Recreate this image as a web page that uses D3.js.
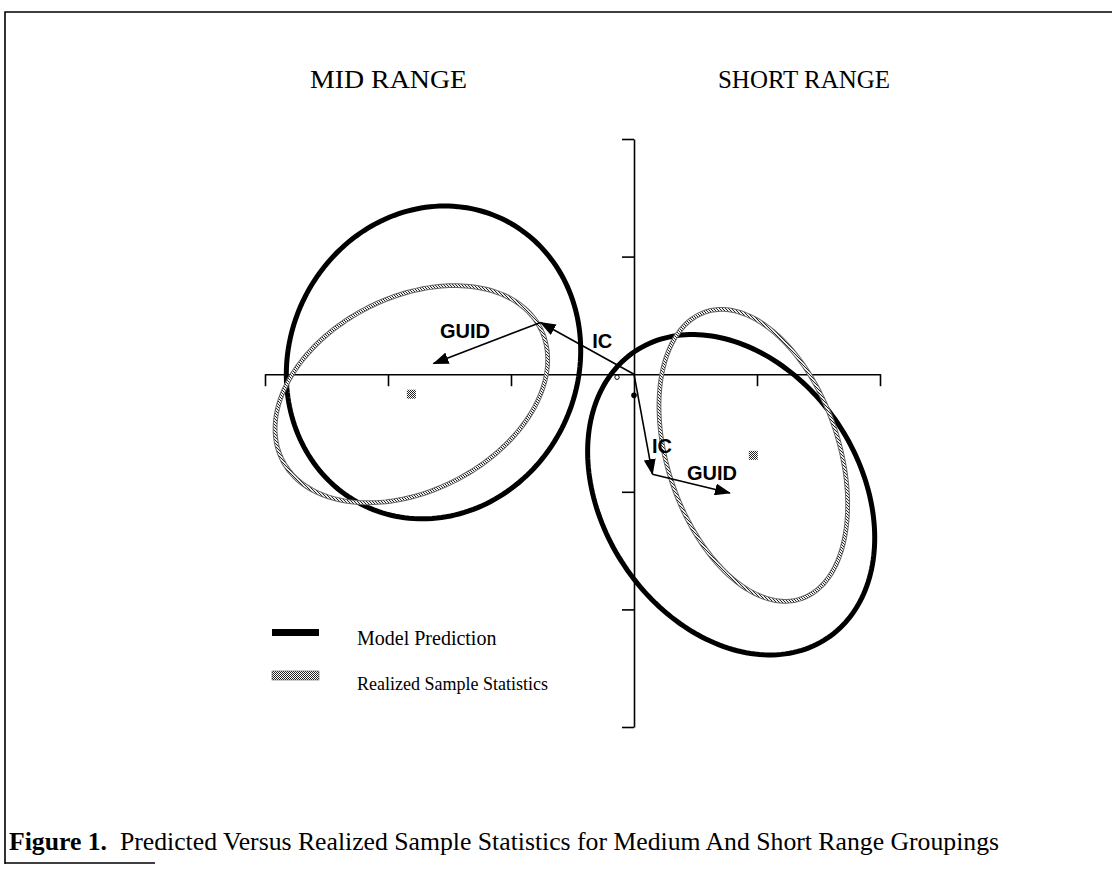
<!DOCTYPE html>
<meta charset="utf-8">
<style>
  html, body { margin: 0; background: #fff; }
  svg { display: block; }
  .serif { font-family: "Liberation Serif", "Times New Roman", serif; fill: #000; }
  .lbl { font-family: "Liberation Sans", Arial, sans-serif; font-weight: bold; font-size: 20px; fill: #000; }
  .axis path, .axis line { stroke: #000; stroke-width: 1.6; }
</style>
<body>
<script src="https://cdn.jsdelivr.net/npm/d3@7"></script>
<script>
// axis ticks (data units, zero is where the axes cross)
var xTicks = [-3, -2, -1, 1, 2];
var yTicks = [-3, -2, -1, 1, 2];

// group titles
var groups = ["MID RANGE", "SHORT RANGE"];

// ellipses: model prediction / realized sample, for mid and short range
var ellipseKind = ["model", "sample", "model", "sample"];
var ellipseCx = [-1.63, -1.81, 0.79, 0.97];
var ellipseCy = [0.10, -0.17, -1.025, -0.69];
var ellipseA = [1.345, 1.19, 1.45, 1.28];
var ellipseB = [1.18, 0.815, 1.056, 0.70];
var ellipseAngle = [72, 30, -60, -73];

// sample means (small dithered squares)
var meanX = [-1.81, 0.97];
var meanY = [-0.17, -0.69];

// IC and GUID vectors: IC from origin to the bend, GUID from bend to model centre
var bendX = [-0.76, 0.15];
var bendY = [0.44, -0.85];
var guidX = [-1.63, 0.78];
var guidY = [0.09, -1.01];

// label anchors for the vectors (data units)
var icLabelX = [-0.34, 0.146];
var icLabelY = [0.22, -0.672];
var guidLabelX = [-1.577, 0.431];
var guidLabelY = [0.306, -0.901];

// tiny marks near the origin
var openMarkX = [-0.138], openMarkY = [-0.026];
var dotMarkX = [0], dotMarkY = [-0.18];

var legendLabels = ["Model Prediction", "Realized Sample Statistics"];
var caption = "Predicted Versus Realized Sample Statistics for Medium And Short Range Groupings";

var W = 1112, H = 869;
var svg = d3.select("body").append("svg").attr("width", W).attr("height", H);

var x = d3.scaleLinear().domain([-3, 2]).range([265, 880]);
var y = d3.scaleLinear().domain([-3, 2]).range([727, 139]);

var defs = svg.append("defs");
// dithered grey used for the sample statistics
var pat = defs.append("pattern").attr("id", "dither")
  .attr("width", 3).attr("height", 3).attr("patternUnits", "userSpaceOnUse");
pat.append("rect").attr("width", 3).attr("height", 3).attr("fill", "#eee");
[0, 1, 2].forEach(function (k) {
  pat.append("rect").attr("x", k).attr("y", k).attr("width", 1).attr("height", 1).attr("fill", "#222");
});
var pat2 = defs.append("pattern").attr("id", "checker")
  .attr("width", 2).attr("height", 2).attr("patternUnits", "userSpaceOnUse");
pat2.append("rect").attr("width", 2).attr("height", 2).attr("fill", "#fff");
pat2.append("rect").attr("width", 1).attr("height", 1).attr("fill", "#222");
pat2.append("rect").attr("x", 1).attr("y", 1).attr("width", 1).attr("height", 1).attr("fill", "#222");

defs.append("marker").attr("id", "head")
  .attr("viewBox", "0 -6 16 12").attr("refX", 15).attr("refY", 0)
  .attr("markerWidth", 16).attr("markerHeight", 12)
  .attr("markerUnits", "userSpaceOnUse").attr("orient", "auto")
  .append("path").attr("d", "M0,-6L16,0L0,6Z").attr("fill", "#000");

// frame
svg.append("path")
  .attr("d", "M5,864 L5,12 L1112,12 M5,863 L155,863")
  .attr("fill", "none").attr("stroke", "#000").attr("stroke-width", 1.6);

// titles
svg.selectAll(".group").data(groups).enter().append("text")
  .attr("class", "serif group")
  .attr("x", function (d, i) { return i === 0 ? 310 : 718; })
  .attr("y", 88)
  .attr("textLength", function (d, i) { return i === 0 ? 157 : 172; })
  .attr("lengthAdjust", "spacingAndGlyphs")
  .style("font-size", "25px")
  .text(function (d) { return d; });

// axes
svg.append("g").attr("class", "axis")
  .attr("transform", "translate(0," + y(0) + ")")
  .call(d3.axisBottom(x).tickValues(xTicks).tickSize(12).tickSizeOuter(0).tickFormat(""));
svg.append("g").attr("class", "axis")
  .attr("transform", "translate(" + x(0) + ",0)")
  .call(d3.axisLeft(y).tickValues(yTicks).tickSize(12).tickSizeOuter(0).tickFormat(""));

// ellipses
function ellipsePoints(i) {
  var th = ellipseAngle[i] * Math.PI / 180, pts = [];
  for (var k = 0; k < 200; k++) {
    var t = k / 200 * 2 * Math.PI;
    var u = ellipseA[i] * Math.cos(t), v = ellipseB[i] * Math.sin(t);
    pts.push([ellipseCx[i] + u * Math.cos(th) - v * Math.sin(th),
              ellipseCy[i] + u * Math.sin(th) + v * Math.cos(th)]);
  }
  return pts;
}
var line = d3.line()
  .x(function (d) { return x(d[0]); })
  .y(function (d) { return y(d[1]); })
  .curve(d3.curveLinearClosed);

ellipseKind.forEach(function (kind, i) {
  var d = line(ellipsePoints(i));
  if (kind === "model") {
    svg.append("path").attr("d", d).attr("fill", "none")
      .attr("stroke", "#000").attr("stroke-width", 5);
  } else {
    svg.append("path").attr("d", d).attr("fill", "none")
      .attr("stroke", "#666").attr("stroke-width", 4.8);
    svg.append("path").attr("d", d).attr("fill", "none")
      .attr("stroke", "url(#dither)").attr("stroke-width", 2.8);
  }
});

// sample means
svg.selectAll(".mean").data(meanX).enter().append("rect")
  .attr("class", "mean")
  .attr("x", function (d) { return x(d) - 4.5; })
  .attr("y", function (d, i) { return y(meanY[i]) - 4.5; })
  .attr("width", 9).attr("height", 9)
  .attr("fill", "url(#checker)");

// small marks at origin
svg.append("circle").attr("cx", x(openMarkX[0])).attr("cy", y(openMarkY[0]))
  .attr("r", 2.2).attr("fill", "#fff").attr("stroke", "#000").attr("stroke-width", 1);
svg.append("circle").attr("cx", x(dotMarkX[0])).attr("cy", y(dotMarkY[0]))
  .attr("r", 2.8).attr("fill", "#000");

// IC and GUID vectors
[0, 1].forEach(function (i) {
  svg.append("line")
    .attr("x1", x(0)).attr("y1", y(0))
    .attr("x2", x(bendX[i])).attr("y2", y(bendY[i]))
    .attr("stroke", "#000").attr("stroke-width", 1.6)
    .attr("marker-end", "url(#head)");
  svg.append("line")
    .attr("x1", x(bendX[i])).attr("y1", y(bendY[i]))
    .attr("x2", x(guidX[i])).attr("y2", y(guidY[i]))
    .attr("stroke", "#000").attr("stroke-width", 1.6)
    .attr("marker-end", "url(#head)");
  svg.append("text").attr("class", "lbl")
    .attr("x", x(icLabelX[i])).attr("y", y(icLabelY[i])).text("IC");
  svg.append("text").attr("class", "lbl")
    .attr("x", x(guidLabelX[i])).attr("y", y(guidLabelY[i])).text("GUID");
});

// legend
svg.append("rect").attr("x", 272).attr("y", 629).attr("width", 47).attr("height", 7).attr("fill", "#000");
svg.append("rect").attr("x", 272).attr("y", 671).attr("width", 47).attr("height", 9)
  .attr("fill", "url(#checker)").attr("stroke", "#555").attr("stroke-width", 0.6);
svg.selectAll(".leg").data(legendLabels).enter().append("text")
  .attr("class", "serif leg")
  .attr("x", 357)
  .attr("y", function (d, i) { return i === 0 ? 645 : 690; })
  .style("font-size", function (d, i) { return i === 0 ? "20px" : "18px"; })
  .text(function (d) { return d; });

// caption
var cap = svg.append("text").attr("class", "serif")
  .attr("x", 9).attr("y", 850)
  .attr("textLength", 990).attr("lengthAdjust", "spacingAndGlyphs")
  .style("font-size", "25px");
cap.append("tspan").style("font-weight", "bold").text("Figure 1.");
cap.append("tspan").text("\u00a0 " + caption);
</script>
</body>
